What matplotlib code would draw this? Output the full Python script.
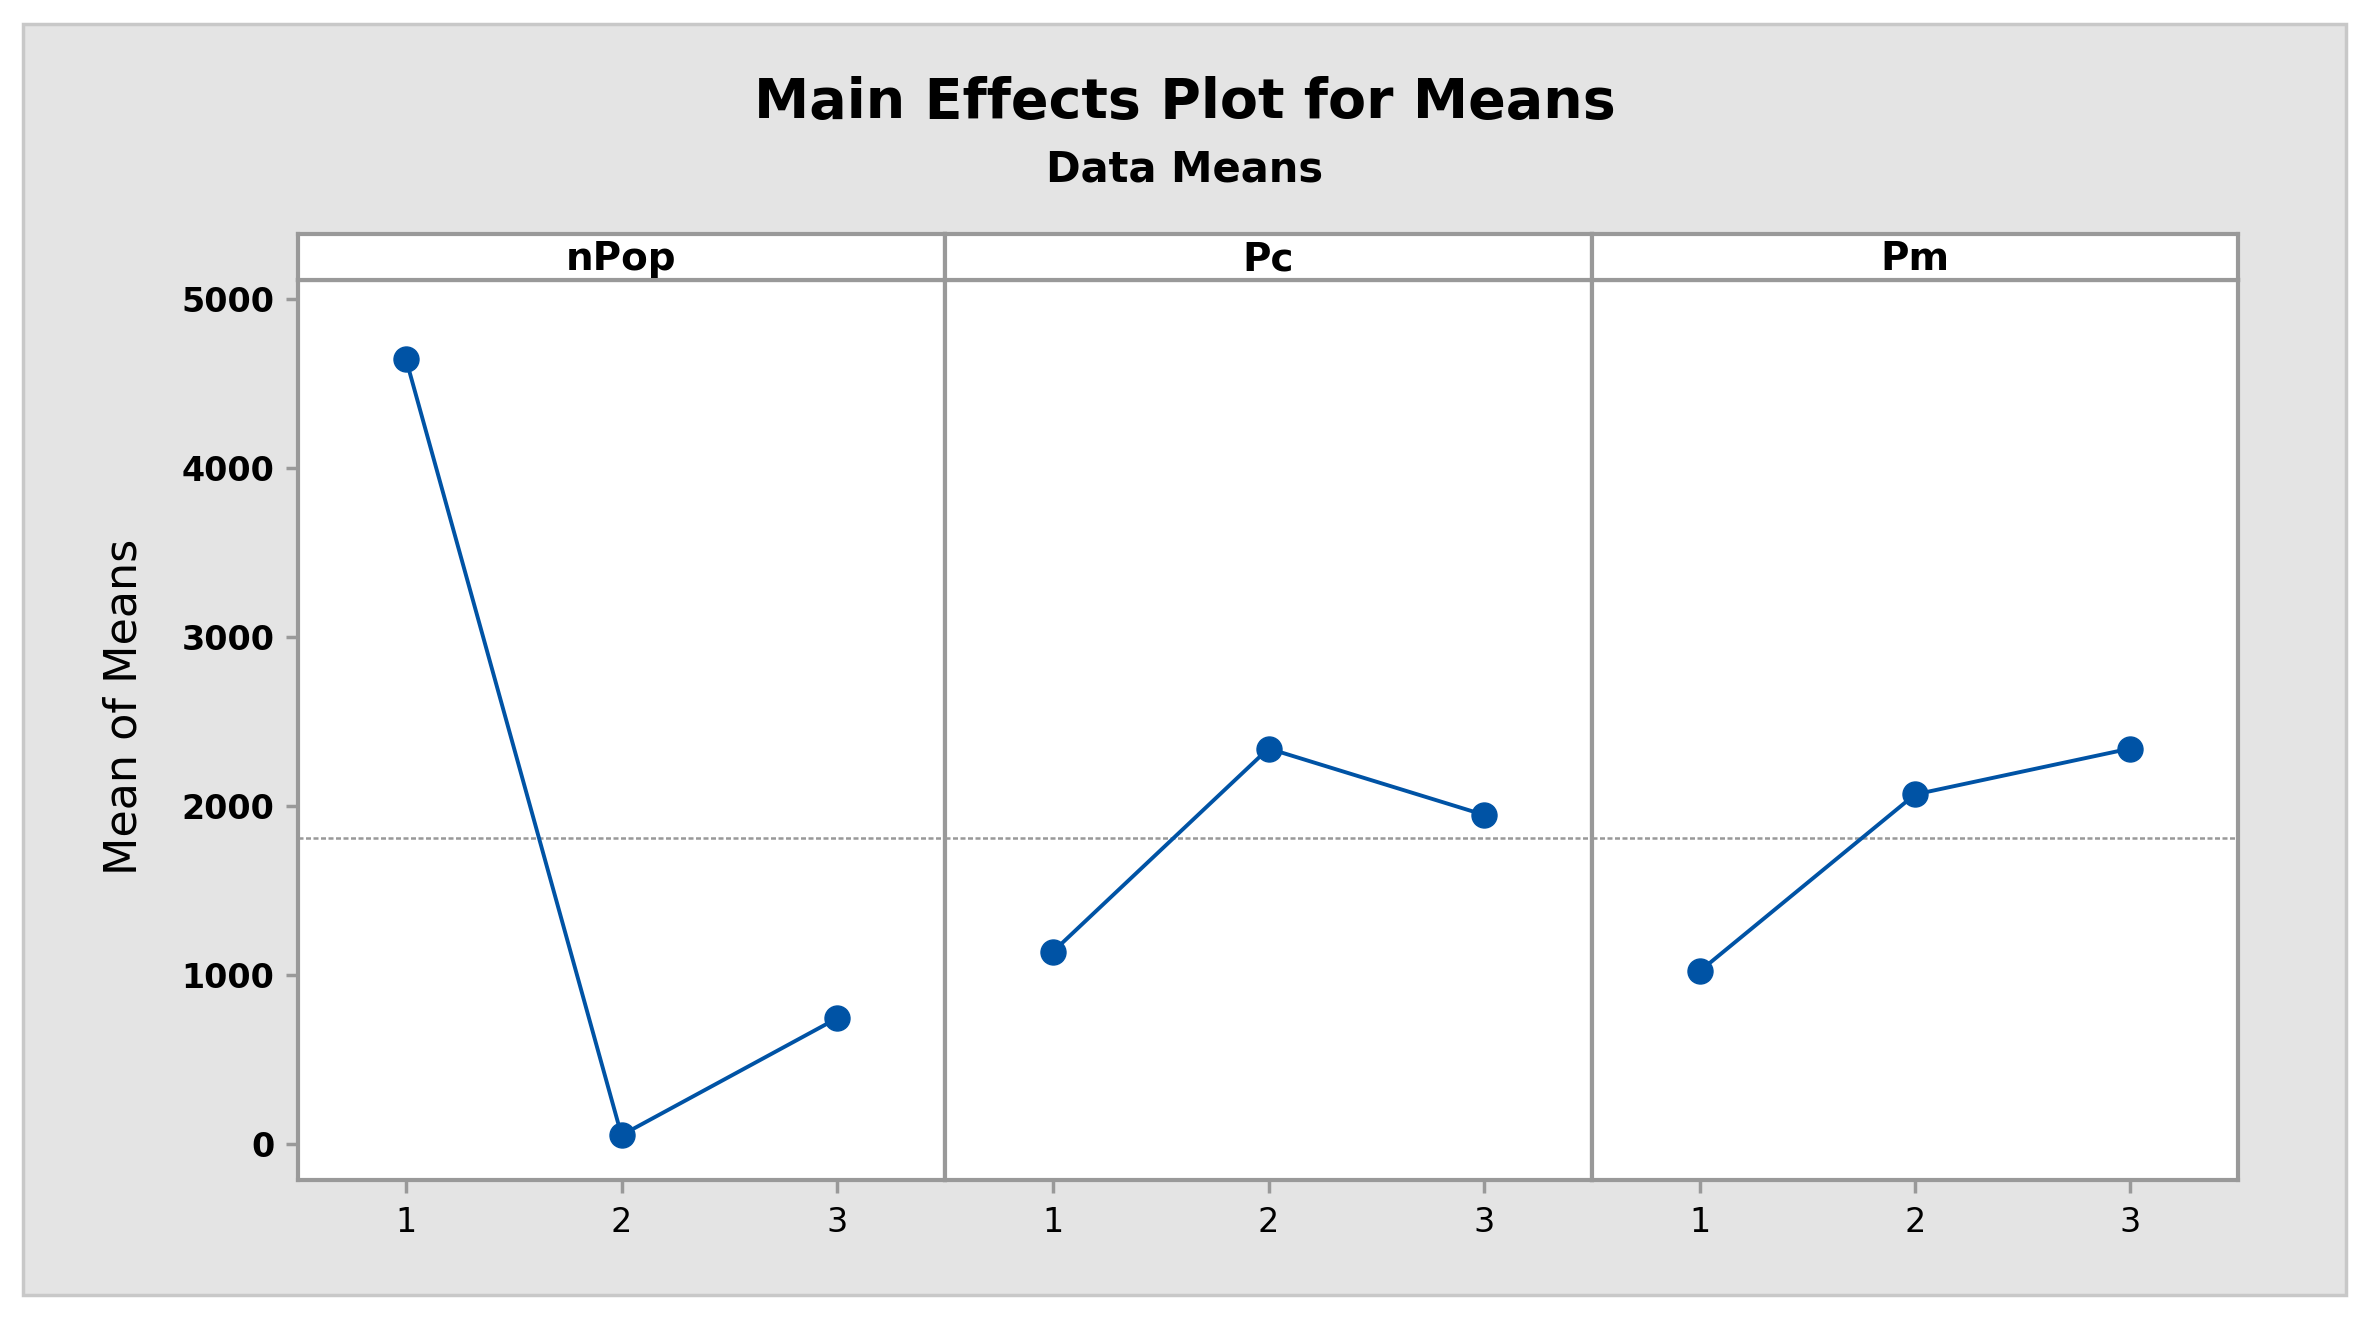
import numpy as np
import matplotlib
matplotlib.use("Agg")
import matplotlib.pyplot as plt
from matplotlib.patches import Rectangle

# ---- data ----
factors = ["nPop", "Pc", "Pm"]
levels = [1, 2, 3]
npop_means = [4645, 50, 742]
pc_means = [1135, 2338, 1945]
pm_means = [1020, 2066, 2338]
yticks = [0, 1000, 2000, 3000, 4000, 5000]
title = "Main Effects Plot for Means"
subtitle = "Data Means"
ylabel = "Mean of Means"

series = [npop_means, pc_means, pm_means]
grand_mean = np.mean(npop_means + pc_means + pm_means)

W, H = 2370, 1320
DPI = 100
fig = plt.figure(figsize=(W / DPI, H / DPI), dpi=DPI)
fig.patch.set_facecolor("white")

def fx(px):
    return px / W

def fy(py):
    return 1 - py / H

# outer grey panel
fig.patches.append(Rectangle((fx(23), fy(1295)), fx(2346) - fx(23), fy(24) - fy(1295),
                             transform=fig.transFigure, facecolor="#e4e4e4",
                             edgecolor="#c8c8c8", linewidth=2.5, zorder=-10))

gray = "#999999"
blue = "#0053a5"
xs = [298, 945, 1592, 2238]
top_data, bottom = 280, 1180
strip_top = 234

for i, (name, vals) in enumerate(zip(factors, series)):
    ax = fig.add_axes([fx(xs[i]), fy(bottom), fx(xs[i + 1]) - fx(xs[i]), fy(top_data) - fy(bottom)])
    ax.set_facecolor("white")
    ax.axhline(grand_mean, color=gray, linestyle=(0, (2, 1)), linewidth=1.8, zorder=1)
    ax.plot(levels, vals, color=blue, linewidth=2.8, marker="o", markersize=18,
            markerfacecolor=blue, markeredgecolor=blue, zorder=3)
    ax.set_xlim(0.5, 3.5)
    ax.set_ylim(-215, 5110)
    ax.set_xticks(levels)
    ax.set_xticklabels([str(l) for l in levels], fontsize=24)
    for s in ax.spines.values():
        s.set_color(gray)
        s.set_linewidth(3)
    ax.tick_params(axis="x", colors=gray, length=9, width=2.5, labelcolor="black", pad=10)
    if i == 0:
        ax.set_yticks(yticks)
        ax.set_yticklabels([str(t) for t in yticks], fontsize=24, fontweight="bold")
        ax.tick_params(axis="y", colors=gray, length=9, width=2.5, labelcolor="black", pad=8)
    else:
        ax.set_yticks([])

    sax = fig.add_axes([fx(xs[i]), fy(top_data), fx(xs[i + 1]) - fx(xs[i]), fy(strip_top) - fy(top_data)])
    sax.set_facecolor("white")
    sax.set_xticks([])
    sax.set_yticks([])
    for s in sax.spines.values():
        s.set_color(gray)
        s.set_linewidth(3)
    sax.text(0.5, 0.45, name, ha="center", va="center", fontsize=28,
             fontweight="bold", transform=sax.transAxes)

fig.text(fx(124), fy(707), ylabel, ha="center", va="center", rotation=90, fontsize=32)
fig.text(fx(1185), fy(103), title, ha="center", va="center", fontsize=40, fontweight="bold")
fig.text(fx(1185), fy(169), subtitle, ha="center", va="center", fontsize=30, fontweight="bold")

fig.savefig("out.png", dpi=DPI)
